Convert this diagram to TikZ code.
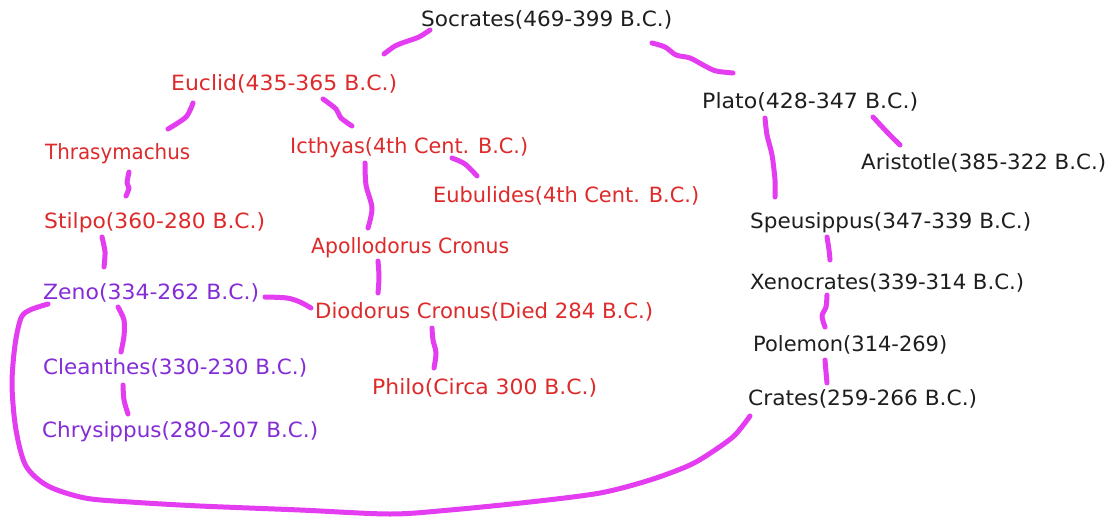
\documentclass[tikz,border=0pt]{standalone}
\usepackage{fontspec}
\setmainfont{DejaVu Sans}
\usepackage{graphicx}
\definecolor{ink}{RGB}{30,30,30}
\definecolor{redink}{RGB}{222,42,42}
\definecolor{purpink}{RGB}{132,44,214}
\definecolor{penc}{RGB}{228,60,240}
% stretch a label horizontally to a given width (in pt)
\newcommand\fitto[2]{\resizebox{#1pt}{\height}{#2}}
\tikzset{
  lbl/.style={anchor=base west, inner sep=0pt, font=\fontsize{21}{24}\selectfont},
  blk/.style={lbl, text=ink},
  rd/.style={lbl, text=redink},
  pu/.style={lbl, text=purpink},
  pen/.style={draw=penc, line width=5pt, line cap=round, line join=round},
}
\begin{document}
\begin{tikzpicture}[x=1pt,y=-1pt]
\fill[white] (0,0) rectangle (1111,519);
\useasboundingbox (0,0) rectangle (1111,519);

% philosophers
\node[blk] (socrates) at (421,27)  {\fitto{251}{Socrates(469-399 B.C.)}};
\node[rd]  (euclid)   at (171,90)  {\fitto{226}{Euclid(435-365 B.C.)}};
\node[blk] (plato)    at (702,108) {\fitto{216}{Plato(428-347 B.C.)}};
\node[rd]  (thrasy)   at (45,159)  {\fitto{145}{Thrasymachus}};
\node[rd]  (icthyas)  at (290,153) {\fitto{238}{Icthyas(4th Cent. B.C.)}};
\node[blk] (aristotle) at (861,169) {\fitto{245}{Aristotle(385-322 B.C.)}};
\node[rd]  (eubulides) at (433,202) {\fitto{266}{Eubulides(4th Cent. B.C.)}};
\node[rd]  (stilpo)   at (44,228)  {\fitto{221}{Stilpo(360-280 B.C.)}};
\node[blk] (speus)    at (750,228) {\fitto{281}{Speusippus(347-339 B.C.)}};
\node[rd]  (apollo)   at (311,253) {\fitto{198}{Apollodorus Cronus}};
\node[blk] (xeno)     at (750,289) {\fitto{274}{Xenocrates(339-314 B.C.)}};
\node[pu]  (zeno)     at (43,299)  {\fitto{216}{Zeno(334-262 B.C.)}};
\node[rd]  (diodorus) at (315,318) {\fitto{338}{Diodorus Cronus(Died 284 B.C.)}};
\node[blk] (polemon)  at (753,351) {\fitto{194}{Polemon(314-269)}};
\node[pu]  (cleanthes) at (43,374) {\fitto{264}{Cleanthes(330-230 B.C.)}};
\node[rd]  (philo)    at (372,394) {\fitto{225}{Philo(Circa 300 B.C.)}};
\node[blk] (crates)   at (748,405) {\fitto{229}{Crates(259-266 B.C.)}};
\node[pu]  (chrys)    at (42,437)  {\fitto{276}{Chrysippus(280-207 B.C.)}};

% hand-drawn links between teacher and pupil
\draw[pen] plot[smooth] coordinates {(430,30) (419,37) (405,42) (395,46) (384,54)};
\draw[pen] plot[smooth] coordinates {(652,43) (665,47) (676,55) (690,58) (705,66) (716,71) (733,73)};
\draw[pen] plot[smooth] coordinates {(193,103) (186,117) (168,129)};
\draw[pen] plot[smooth] coordinates {(323,99) (336,109) (341,118) (352,126)};
\draw[pen] plot[smooth] coordinates {(129,172) (127,183) (129,188) (126,196)};
\draw[pen] plot[smooth] coordinates {(452,158) (465,164) (477,176)};
\draw[pen] plot[smooth] coordinates {(365,163) (366,185) (372,208) (368,228)};
\draw[pen] plot[smooth] coordinates {(102,237) (105,252) (104,267)};
\draw[pen] plot[smooth] coordinates {(378,261) (379,277) (378,293)};
\draw[pen] plot[smooth] coordinates {(265,297) (287,298) (300,302) (311,308)};
\draw[pen] plot[smooth] coordinates {(118,307) (124,320) (124,336) (121,352)};
\draw[pen] plot[smooth] coordinates {(123,385) (124,400) (128,414)};
\draw[pen] plot[smooth] coordinates {(432,328) (433,340) (436,353) (434,368)};
\draw[pen] plot[smooth] coordinates {(765,118) (767,135) (772,155) (775,180) (775,197)};
\draw[pen] plot[smooth] coordinates {(873,117) (887,132) (900,145)};
\draw[pen] plot[smooth] coordinates {(827,237) (829,250) (830,260)};
\draw[pen] plot[smooth] coordinates {(827,295) (826,307) (822,316) (825,327)};
\draw[pen] plot[smooth] coordinates {(825,360) (826,372) (827,383)};
% long loop from Crates back round to Zeno
\draw[pen] plot[smooth] coordinates {(750,416) (735,435) (715,450) (690,465) (650,480) (600,493)
  (530,502) (450,510) (390,514) (300,510) (200,506) (130,502) (85,498) (48,486) (26,466)
  (16,430) (12,385) (15,345) (21,318) (30,310) (48,304)};
\end{tikzpicture}
\end{document}
